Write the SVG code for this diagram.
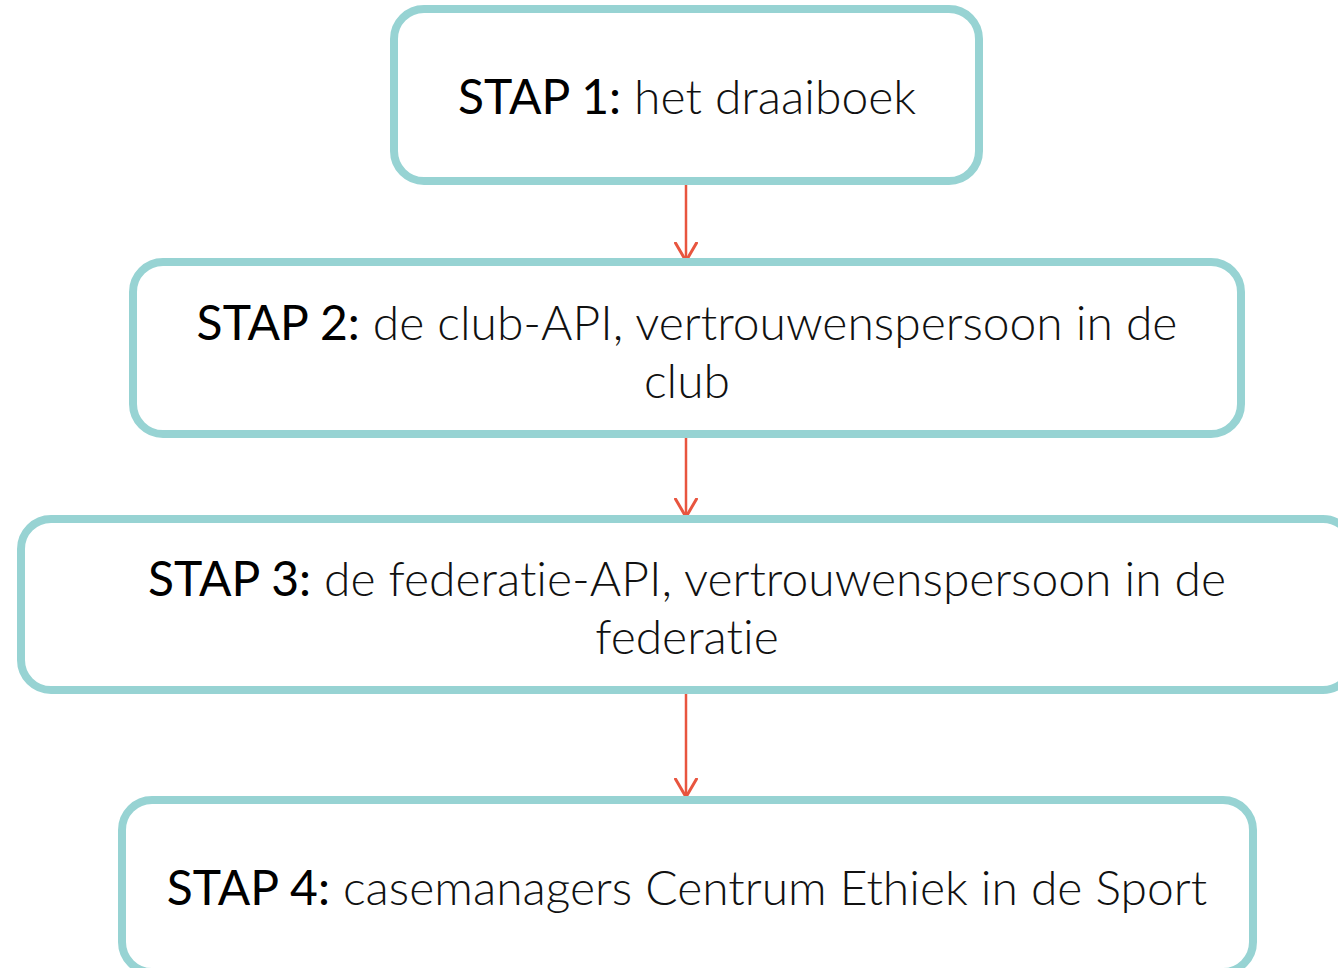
<svg xmlns="http://www.w3.org/2000/svg" width="1338" height="968" viewBox="0 0 1338 968">
<style>
.box{fill:#fff;stroke:#97D3D3;stroke-width:8}
.t{font-family:Lato,"Liberation Sans",sans-serif;font-size:48px;text-anchor:middle;font-variant-ligatures:none;font-feature-settings:"liga" 0,"dlig" 0,"clig" 0}
.s{font-weight:400;fill:#000}
.d{font-weight:300;fill:#111}
.c{stroke:#E8553F;stroke-width:2.5;fill:none}
</style>
<defs>
<marker id="ah" viewBox="0 0 22 24" refX="19" refY="12" markerWidth="22" markerHeight="24" markerUnits="userSpaceOnUse" orient="auto">
<path d="M1,1.5 L19,12 L1,22.5" fill="none" stroke="#E8553F" stroke-width="3" stroke-linecap="round" stroke-linejoin="miter"/>
</marker>
</defs>
<rect width="1338" height="968" fill="#fff"/>
<g id="connectors">
<line class="c" x1="686" y1="181" x2="686" y2="261" marker-end="url(#ah)"/>
<line class="c" x1="686" y1="434" x2="686" y2="517" marker-end="url(#ah)"/>
<line class="c" x1="686" y1="690" x2="686" y2="797" marker-end="url(#ah)"/>
</g>
<g id="step1">
<rect class="box" x="394" y="9" width="585" height="172" rx="30"/>
<text class="t" x="687" y="114"><tspan class="s">STAP 1:</tspan><tspan class="d"> het draaiboek</tspan></text>
</g>
<g id="step2">
<rect class="box" x="133" y="262" width="1108" height="172" rx="30"/>
<text class="t" x="687" y="340"><tspan class="s">STAP 2:</tspan><tspan class="d"> de club-API, vertrouwenspersoon in de</tspan></text>
<text class="t d" x="687" y="398">club</text>
</g>
<g id="step3">
<rect class="box" x="21" y="519" width="1332" height="171" rx="30"/>
<text class="t" x="687" y="596"><tspan class="s">STAP 3:</tspan><tspan class="d"> de federatie-API, vertrouwenspersoon in de</tspan></text>
<text class="t d" x="687" y="654">federatie</text>
</g>
<g id="step4">
<rect class="box" x="122" y="800" width="1131" height="172" rx="30"/>
<text class="t" x="687" y="905"><tspan class="s">STAP 4:</tspan><tspan class="d"> casemanagers Centrum Ethiek in de Sport</tspan></text>
</g>
</svg>
